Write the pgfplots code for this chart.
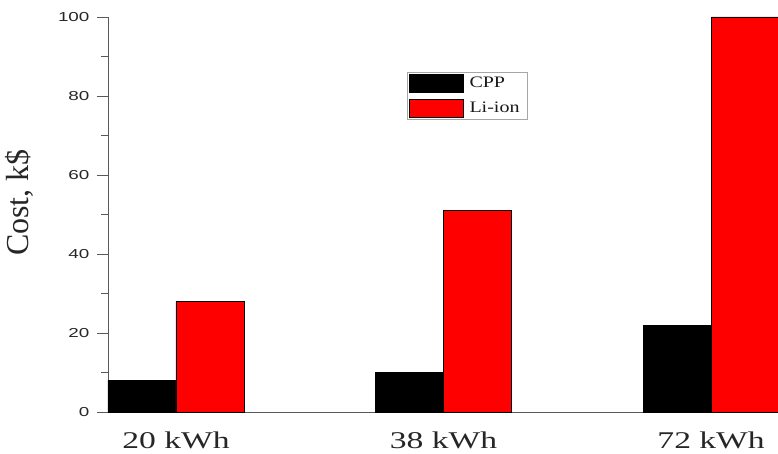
\documentclass[border=0pt]{standalone}
\usepackage{pgfplots}
\pgfplotsset{compat=1.18}
\usepackage{fontspec}
\setmainfont{Liberation Serif}
\newfontfamily\arialfont{Liberation Sans}
\pgfplotsset{bigbox legend/.style={legend image code/.code={\draw[##1] (0pt,-9pt) rectangle (54pt,9pt);}}}
\begin{document}
\begin{tikzpicture}[x=1pt,y=1pt]
\useasboundingbox (-108,-41) rectangle (670,412);
\begin{axis}[
  at={(0,0)}, anchor=south west,
  scale only axis,
  width=670pt, height=395pt,
  xmin=-0.254, xmax=2.25,
  ymin=0, ymax=100,
  axis lines*=left,
  axis line style={draw=black!65, line width=0.8pt},
  xtick={0,1,2},
  xticklabels={\scalebox{1.4}[1]{20 kWh},\scalebox{1.4}[1]{38 kWh},\scalebox{1.4}[1]{72 kWh}},
  xtick style={draw=none},
  xticklabel style={font=\fontsize{24}{26}\selectfont, inner sep=0pt, yshift=-9pt, text=black!85},
  ytick={0,20,40,60,80,100},
  minor y tick num=1,
  tick align=outside,
  ytick style={draw=black!65, line width=0.8pt},
  major tick length=11pt,
  minor tick length=7pt,
  /pgf/number format/assume math mode=true,
  yticklabel={\scalebox{1.45}[1]{\pgfmathprintnumber{\tick}}},
  yticklabel style={font=\arialfont\fontsize{13}{14}\selectfont, text=black!85, xshift=-4pt},
  ylabel={Cost, k\$},
  ylabel style={font=\fontsize{32}{34}\selectfont, at={(axis description cs:-0.133,0.53)}, anchor=center, text=black!85},
  legend style={at={(axis description cs:0.446,0.861)}, anchor=north west,
    draw=black!35, line width=0.6pt, font=\fontsize{16}{17}\selectfont,
    inner xsep=2pt, inner ysep=2pt, row sep=6pt, text=black!90,
    nodes={inner xsep=6pt}},
  legend cell align=left,
  every axis plot/.append style={ybar, bar width=0.254, draw=black, line width=0.4pt},
]
\addplot[fill=black, bar shift=-0.127, area legend, bigbox legend]
  coordinates {(0,8) (1,10) (2,22)};
\addplot[fill=red, bar shift=0.127, area legend, bigbox legend]
  coordinates {(0,28) (1,51) (2,100)};
\legend{\scalebox{1.25}[1]{CPP},\scalebox{1.25}[1]{Li-ion}}
\end{axis}
\end{tikzpicture}
\end{document}
